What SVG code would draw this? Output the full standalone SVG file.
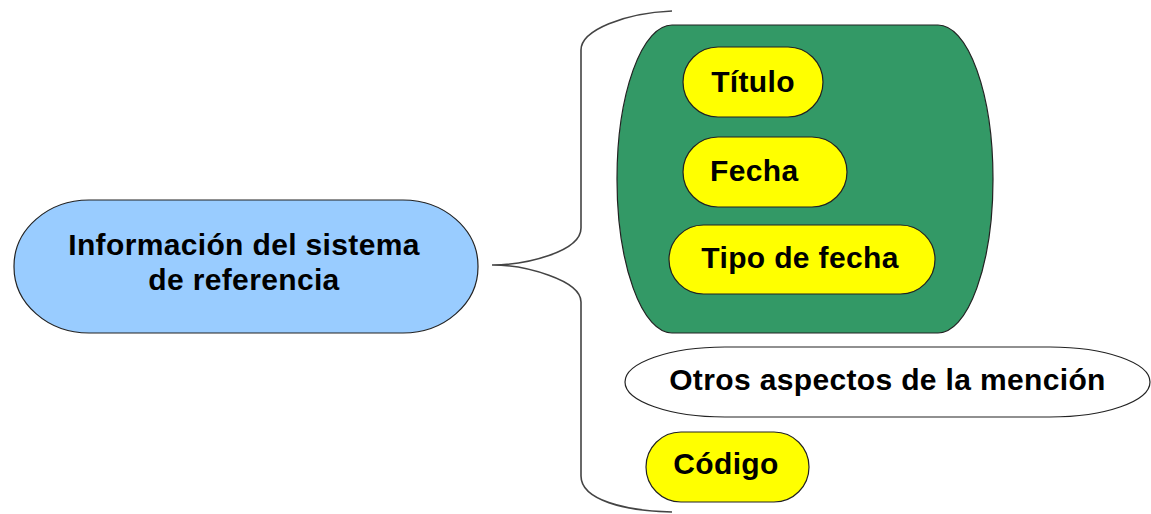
<svg xmlns="http://www.w3.org/2000/svg" width="1151" height="514" viewBox="0 0 1151 514">
<style>
.lbl{font-family:"Liberation Sans",Arial,sans-serif;font-weight:bold;font-size:30px;letter-spacing:0.35px;fill:#000}
.pill{fill:#ffff00;stroke:#222;stroke-width:1.2}
.edge{fill:none;stroke:#444;stroke-width:1.6}
</style>
<rect width="1151" height="514" fill="#fff"/>
<g id="connectors">
<path class="edge" d="M672,11 C625,13 581,30 581,50 L581,228 C581,252 525,265 492,265 C525,265 581,280 581,302 L581,476 C581,500 625,511 672,512"/>
</g>
<g id="root">
<rect x="14" y="200" width="464" height="133" rx="75" ry="66" fill="#99ccff" stroke="#222" stroke-width="1.2"/>
<text class="lbl" x="244" y="255" text-anchor="middle">Información del sistema</text>
<text class="lbl" x="244" y="290" text-anchor="middle">de referencia</text>
</g>
<g id="group-fecha">
<rect x="617" y="25" width="376" height="308" rx="55" ry="154" fill="#339966" stroke="#222" stroke-width="1.2"/>
</g>
<g id="titulo">
<rect class="pill" x="683" y="47" width="140" height="70" rx="35"/>
<text class="lbl" x="753" y="92" text-anchor="middle">Título</text>
</g>
<g id="fecha">
<rect class="pill" x="683" y="137" width="164" height="70" rx="35"/>
<text class="lbl" x="710" y="181">Fecha</text>
</g>
<g id="tipo-fecha">
<rect class="pill" x="669" y="225" width="266" height="69" rx="34.5"/>
<text class="lbl" x="800" y="268" text-anchor="middle">Tipo de fecha</text>
</g>
<g id="otros">
<rect x="625" y="347" width="525" height="70" rx="100" ry="35" fill="#fff" stroke="#222" stroke-width="1.2"/>
<text class="lbl" x="887.5" y="390" text-anchor="middle">Otros aspectos de la mención</text>
</g>
<g id="codigo">
<rect class="pill" x="646" y="432" width="163" height="70" rx="35"/>
<text class="lbl" x="726" y="474" text-anchor="middle">Código</text>
</g>
</svg>
